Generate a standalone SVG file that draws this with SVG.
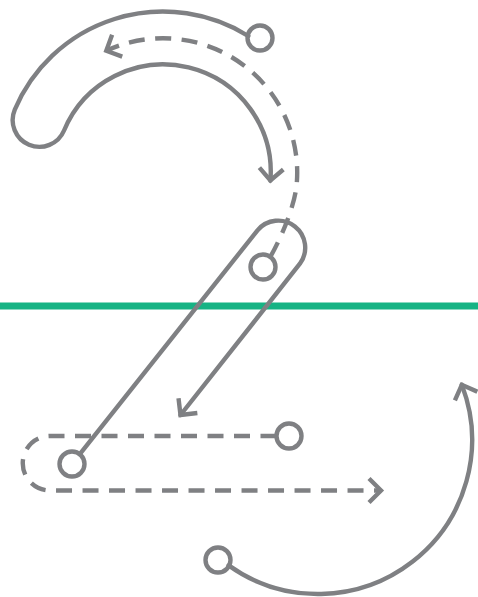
<svg xmlns="http://www.w3.org/2000/svg" width="478" height="597" viewBox="0 0 478 597">
  <style>
    .ln { fill: none; stroke: #7f8083; stroke-width: 4.4; stroke-linecap: round; stroke-linejoin: round; }
    .dash { fill: none; stroke: #7f8083; stroke-width: 4.4; stroke-linecap: butt; stroke-dasharray: 16 10.5; }
    .pt { fill: none; stroke: #7f8083; stroke-width: 4.4; }
    .base { stroke: #17b384; stroke-width: 7; }
  </style>
  <defs>
    <marker id="chev" markerUnits="userSpaceOnUse" viewBox="-20 -20 40 40" markerWidth="40" markerHeight="40" refX="0" refY="0" orient="auto">
      <path d="M -12,-12 L 0,0 L -12,12" fill="none" stroke="#7f8083" stroke-width="4.4" stroke-linecap="butt" stroke-linejoin="miter"/>
    </marker>
  </defs>
  <g id="baseline">
    <line class="base" x1="0" y1="306" x2="478" y2="306"/>
  </g>
  <g id="connectors">
    <path id="stroke1" class="ln" marker-end="url(#chev)" d="M 248.3,36 A 161 161 0 0 0 14.8,109.6 A 26.75 26.75 0 0 0 64.05,130.5 A 107.5 107.5 0 0 1 270.4,180.5"/>
    <path id="stroke1-dash" class="dash" marker-end="url(#chev)" d="M 270.5,256.5 C 278,243.5 294.5,209.1 296.7,184.2 A 134.25 134.25 0 0 0 106.3,50.8"/>
    <path id="stroke2" class="ln" marker-end="url(#chev)" d="M 79.8,454.2 L 257.5,230.3 A 27 27 0 0 1 299.9,263.7 L 180.5,415"/>
    <path id="stroke3-dash" class="dash" marker-end="url(#chev)" d="M 276.5,436 L 50,436 A 27.25 27.25 0 0 0 50,490.5 L 381,490.5"/>
    <path id="stroke4" class="ln" marker-end="url(#chev)" d="M 228.6,565.4 A 154 154 0 0 0 461.8,384.8"/>
  </g>
  <g id="start1"><circle class="pt" cx="260" cy="38" r="12.5"/></g>
  <g id="start-dash1"><circle class="pt" cx="263" cy="267" r="12.5"/></g>
  <g id="start2"><circle class="pt" cx="72" cy="464" r="12.5"/></g>
  <g id="start3"><circle class="pt" cx="289" cy="436" r="12.5"/></g>
  <g id="start4"><circle class="pt" cx="218" cy="560" r="12.5"/></g>
</svg>
